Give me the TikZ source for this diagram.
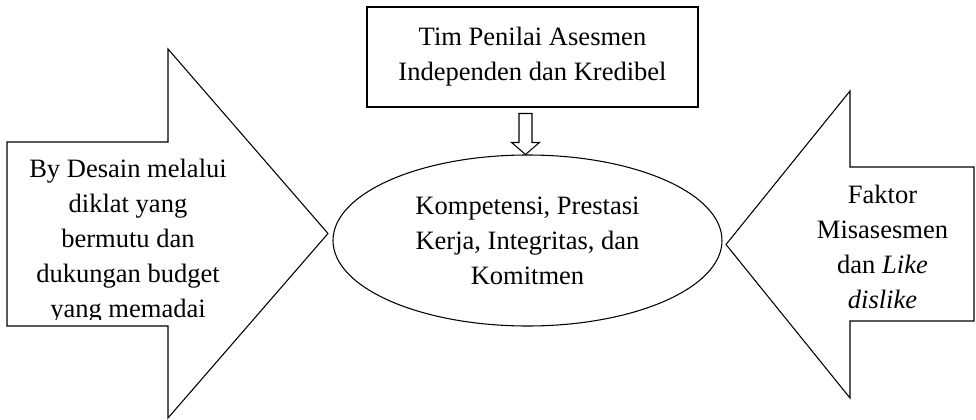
\documentclass[tikz,border=0pt]{standalone}
\usepackage{fontspec}
\setmainfont{Liberation Serif}
\usetikzlibrary{shapes.geometric, calc}

\begin{document}
\begin{tikzpicture}[
  x=0.75pt, y=0.75pt,
  txt/.style={align=center,font=\fontsize{19.9}{26.25}\selectfont,inner sep=0pt},
  blockarrow/.style={draw,line width=0.8pt,line join=miter},
  box/.style={draw,line width=0.8pt,minimum width=248.25pt,minimum height=75pt,txt},
  oval/.style={draw,ellipse,line width=0.8pt,minimum width=291.75pt,minimum height=128.25pt,txt}]
  \useasboundingbox (0,0) rectangle (976,419);
  \draw[blockarrow] (7,277) -- (168,277) -- (168,370) -- (328,185.5) -- (168,1) -- (168,93) -- (7,93) -- cycle;
  \draw[blockarrow] (974,252) -- (850,252) -- (850,328) -- (726,174.5) -- (850,21) -- (850,98) -- (974,98) -- cycle;
  \node[box] (tim) at (532.5,362) {Tim Penilai Asesmen\\Independen dan Kredibel};
  \node[oval] (kpi) at (527.5,178.5) {Kompetensi, Prestasi\\Kerja, Integritas, dan\\Komitmen};
  \begin{scope}
    \clip (0,100) rectangle (340,419);
    \node[txt] (desain) at (128,177.5) {By Desain melalui\\diklat yang\\bermutu dan\\dukungan budget\\yang memadai};
  \end{scope}
  \node[txt] (faktor) at (882.5,172.5) {Faktor\\Misasesmen\\dan \textit{Like}\\\textit{dislike}};
  \draw[blockarrow] ($(kpi.north)+(-2,0)$) -- ++(-14,12) -- ++(7.5,0) -- ++(0,29) -- ++(13,0) -- ++(0,-29) -- ++(7.5,0) -- cycle;
\end{tikzpicture}
\end{document}
